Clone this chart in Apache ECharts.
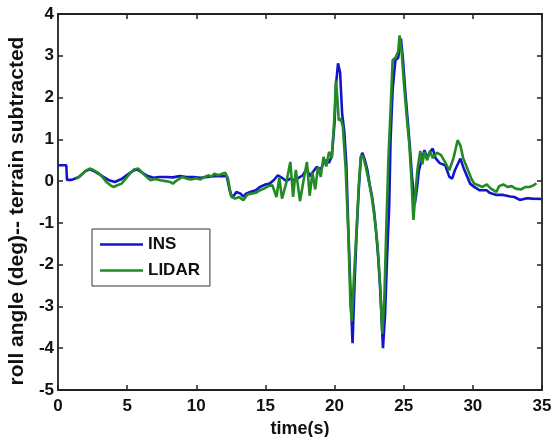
<!DOCTYPE html>
<html>
<head>
<meta charset="utf-8">
<script src="https://cdn.jsdelivr.net/npm/echarts@6/dist/echarts.min.js"></script>
<style>
html,body{margin:0;padding:0;background:#fff;}
#chart{width:551px;height:437px;}
</style>
</head>
<body>
<div id="chart"></div>
<script>
// ---- data ----
var xTicks = [0, 5, 10, 15, 20, 25, 30, 35];
var yTicks = [-5, -4, -3, -2, -1, 0, 1, 2, 3, 4];

var insTime = [0,0.6,0.65,1.0,1.5,2.0,2.3,2.7,3.2,3.7,4.1,4.6,5.0,5.4,5.7,6.1,6.5,6.9,7.3,7.8,8.3,8.8,9.3,9.8,10.3,10.8,11.3,11.8,12.2,12.4,12.6,12.9,13.2,13.4,13.6,13.9,14.3,14.6,15.0,15.3,15.6,15.9,16.2,16.5,16.8,17.1,17.4,17.7,18.0,18.2,18.5,18.7,19.0,19.3,19.6,19.8,20.0,20.1,20.25,20.4,20.55,20.7,20.85,21.0,21.15,21.3,21.45,21.6,21.75,21.9,22.0,22.15,22.35,22.55,22.7,22.85,23.0,23.15,23.3,23.5,23.65,23.8,23.95,24.05,24.2,24.4,24.6,24.8,24.95,25.1,25.3,25.45,25.6,25.8,25.95,26.1,26.3,26.5,26.7,26.9,27.1,27.3,27.6,28.0,28.3,28.5,28.7,29.1,29.3,29.6,29.8,30.1,30.5,31.0,31.2,31.7,32.2,32.7,33.0,33.4,33.9,34.3,35.0];
var insRoll = [0.38,0.38,0.03,0.03,0.1,0.24,0.28,0.22,0.12,0.02,-0.02,0.05,0.15,0.24,0.28,0.2,0.12,0.08,0.1,0.1,0.09,0.12,0.1,0.1,0.08,0.1,0.12,0.12,0.12,-0.2,-0.4,-0.26,-0.3,-0.37,-0.3,-0.26,-0.22,-0.14,-0.08,-0.06,0.02,0.14,0.08,0.0,0.06,0.02,0.08,0.14,0.3,0.12,0.25,0.34,0.28,0.5,0.44,0.6,1.4,2.3,2.82,2.6,1.6,1.2,0.4,-1.2,-2.6,-3.88,-2.4,-1.2,-0.2,0.55,0.68,0.55,0.3,-0.1,-0.35,-0.7,-1.2,-1.8,-2.6,-4.0,-3.2,-1.8,-0.6,1.0,2.2,2.9,2.95,3.41,2.9,2.2,1.4,0.8,0.1,-0.55,-0.2,0.26,0.5,0.74,0.55,0.7,0.78,0.55,0.43,0.38,0.1,0.06,0.26,0.54,0.34,0.1,-0.06,-0.14,-0.22,-0.22,-0.28,-0.33,-0.33,-0.37,-0.38,-0.45,-0.41,-0.42,-0.43];

var lidarTime = [1.3,1.6,2.0,2.3,2.6,2.9,3.2,3.5,3.8,4.0,4.3,4.6,4.9,5.2,5.5,5.8,6.1,6.4,6.7,7.0,7.4,7.8,8.1,8.3,8.6,9.0,9.3,9.6,10.0,10.3,10.6,10.9,11.1,11.3,11.6,11.9,12.1,12.3,12.5,12.8,13.1,13.4,13.7,14.0,14.3,14.6,14.9,15.2,15.5,15.8,16.0,16.2,16.5,16.8,17.0,17.2,17.5,17.8,18.0,18.2,18.4,18.6,18.8,19.0,19.2,19.4,19.6,19.8,20.0,20.1,20.2,20.3,20.45,20.6,20.8,21.0,21.15,21.25,21.4,21.6,21.75,21.9,22.05,22.25,22.5,22.7,22.9,23.1,23.3,23.45,23.6,23.75,23.9,24.05,24.2,24.4,24.6,24.7,24.85,25.0,25.2,25.4,25.55,25.7,25.85,26.0,26.2,26.35,26.5,26.7,26.9,27.1,27.4,27.7,28.0,28.3,28.6,28.9,29.1,29.3,29.6,29.9,30.1,30.4,30.7,31.0,31.3,31.7,31.9,32.2,32.5,32.8,33.1,33.5,33.8,34.1,34.4,34.6];
var lidarRoll = [0.05,0.12,0.25,0.3,0.26,0.2,0.1,-0.02,-0.1,-0.14,-0.1,-0.06,0.06,0.18,0.28,0.3,0.2,0.1,0.02,0.05,0.02,0.0,-0.02,-0.06,0.02,0.1,0.06,0.04,0.07,0.04,0.1,0.14,0.1,0.18,0.14,0.18,0.2,0.05,-0.35,-0.42,-0.38,-0.46,-0.32,-0.3,-0.28,-0.22,-0.18,-0.12,-0.1,-0.38,0.08,-0.42,-0.05,0.46,-0.38,0.27,-0.48,0.1,0.46,-0.35,0.2,-0.2,0.34,0.1,0.58,0.35,0.7,0.55,1.6,2.4,2.0,1.45,1.5,1.3,0.3,-1.3,-3.0,-3.35,-2.3,-1.1,-0.1,0.6,0.6,0.35,-0.05,-0.4,-0.9,-1.5,-2.5,-3.65,-2.8,-1.0,0.6,1.7,2.9,2.95,3.1,3.49,3.1,2.4,1.6,0.9,0.1,-0.93,-0.3,0.3,0.72,0.4,0.7,0.5,0.72,0.55,0.68,0.62,0.45,0.26,0.55,0.98,0.85,0.55,0.3,0.05,-0.06,-0.1,-0.14,-0.08,-0.18,-0.26,-0.12,-0.08,-0.14,-0.12,-0.18,-0.2,-0.14,-0.14,-0.1,-0.05];

function pairs(t, v) { return t.map(function (x, i) { return [x, v[i]]; }); }

var FONT = 'Arial, "Liberation Sans", Helvetica, sans-serif';
var axisCol = '#222';

var chart = echarts.init(document.getElementById('chart'), null, {renderer: 'canvas'});
var baseX = {
  type: 'value', min: xTicks[0], max: xTicks[xTicks.length - 1], interval: 5,
  axisLine: {show: true, onZero: false, lineStyle: {color: axisCol, width: 1.8}},
  axisTick: {show: true, inside: true, length: 5, lineStyle: {color: axisCol, width: 1.5}},
  splitLine: {show: false}
};
var baseY = {
  type: 'value', min: yTicks[0], max: yTicks[yTicks.length - 1], interval: 1,
  axisLine: {show: true, onZero: false, lineStyle: {color: axisCol, width: 1.8}},
  axisTick: {show: true, inside: true, length: 5, lineStyle: {color: axisCol, width: 1.5}},
  splitLine: {show: false}
};

chart.setOption({
  animation: false,
  backgroundColor: '#fff',
  grid: {left: 58, right: 9, top: 14, bottom: 47, containLabel: false, outerBoundsMode: 'none'},
  legend: {
    data: ['INS', 'LIDAR'],
    orient: 'vertical',
    left: 92, top: 229,
    icon: 'rect', itemWidth: 43, itemHeight: 2.5, itemGap: 9,
    padding: [7, 10, 7, 8],
    borderColor: '#333', borderWidth: 1, backgroundColor: '#fff',
    textStyle: {fontFamily: FONT, fontWeight: 'bold', fontSize: 17, color: '#111'}
  },
  xAxis: [
    Object.assign({}, baseX, {
      position: 'bottom',
      name: 'time(s)', nameLocation: 'middle', nameGap: 28,
      nameTextStyle: {fontFamily: FONT, fontWeight: 'bold', fontSize: 18, color: '#111'},
      axisLabel: {show: true, margin: 8, fontFamily: FONT, fontWeight: 'bold', fontSize: 17, color: '#111',
        formatter: function (v) { return String(v); }}
    }),
    Object.assign({}, baseX, {position: 'top', axisLabel: {show: false}})
  ],
  yAxis: [
    Object.assign({}, baseY, {
      position: 'left',
      name: 'roll angle (deg)-- terrain subtracted', nameLocation: 'middle', nameGap: 27,
      nameTextStyle: {fontFamily: FONT, fontWeight: 'bold', fontSize: 21, color: '#111', padding: [0, 18, 0, 0]},
      axisLabel: {show: true, margin: 4, fontFamily: FONT, fontWeight: 'bold', fontSize: 17, color: '#111'}
    }),
    Object.assign({}, baseY, {position: 'right', axisLabel: {show: false}})
  ],
  series: [
    {
      name: 'INS', type: 'line', xAxisIndex: 0, yAxisIndex: 0,
      data: pairs(insTime, insRoll),
      showSymbol: false, symbol: 'none',
      lineStyle: {color: '#1414cc', width: 2.6},
      itemStyle: {color: '#1414cc'}
    },
    {
      name: 'LIDAR', type: 'line', xAxisIndex: 0, yAxisIndex: 0,
      data: pairs(lidarTime, lidarRoll),
      showSymbol: false, symbol: 'none',
      lineStyle: {color: '#228b22', width: 2.6},
      itemStyle: {color: '#228b22'}
    }
  ]
});
</script>
</body>
</html>
